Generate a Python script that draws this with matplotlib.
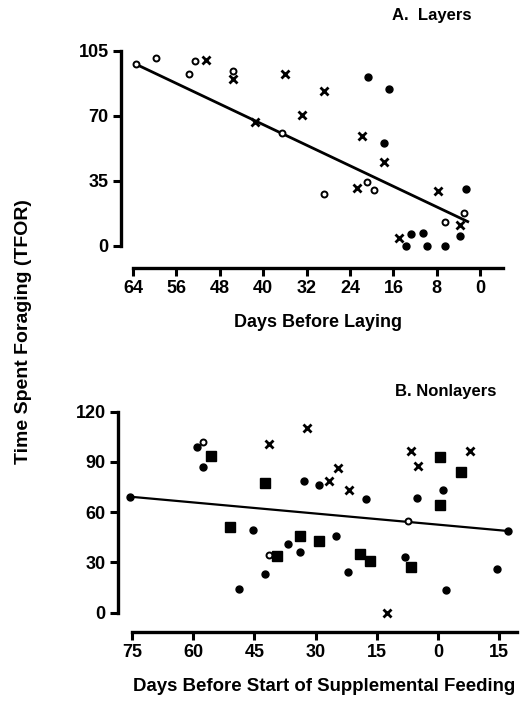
import matplotlib
matplotlib.use("Agg")
import matplotlib.pyplot as plt
import numpy as np
from matplotlib import font_manager

# ---------------- data ----------------
# Panel A: Layers (days before laying, TFOR)
a_open_days = [63.5, 59.8, 52.6, 53.7, 45.5, 36.6, 28.8, 20.9, 19.6, 2.9, 6.5]
a_open_tfor = [97.8, 100.9, 99.6, 92.5, 94.2, 60.6, 28.1, 34.6, 30.1, 17.7, 12.7]
a_x_days = [50.6, 45.5, 35.9, 32.8, 41.5, 28.8, 21.8, 17.8, 22.7, 7.7, 3.8, 14.9]
a_x_tfor = [100.0, 89.6, 92.3, 70.3, 66.8, 83.5, 59.3, 45.0, 31.0, 29.4, 11.1, 4.5]
a_dot_days = [20.7, 16.8, 17.8, 2.7, 3.7, 12.7, 10.6, 13.7, 9.9, 6.5]
a_dot_tfor = [91.0, 84.2, 55.5, 30.6, 5.4, 6.5, 7.2, 0.0, 0.0, 0.0]
a_fit_intercept, a_fit_slope = 9.9, 1.384
a_fit_range = [63.5, 2.3]
a_xticks = [64, 56, 48, 40, 32, 24, 16, 8, 0]
a_yticks = [0, 35, 70, 105]

# Panel B: Nonlayers (days before supplemental feeding, TFOR)
b_dot_days = [75.5, 59.0, 57.6, 32.9, 29.1, 45.3, 36.7, 33.7, 42.5, 48.7,
              17.6, 25.0, 22.1, 5.0, -1.2, 8.1, -2.0, -14.4, -17.3]
b_dot_tfor = [69.3, 99.1, 86.8, 78.4, 76.4, 49.4, 41.0, 36.1, 23.1, 14.1,
              67.7, 46.0, 24.3, 68.7, 73.1, 33.1, 13.6, 26.1, 48.8]
b_open_days = [57.7, 41.5, 7.2]
b_open_tfor = [101.7, 34.3, 54.9]
b_x_days = [41.3, 32.2, 26.6, 24.4, 21.8, 12.4, 6.7, 4.8, -7.9]
b_x_tfor = [100.5, 110.0, 78.6, 86.4, 73.1, 0.0, 96.7, 87.6, 96.7]
b_sq_days = [55.6, 42.4, 51.0, 33.7, 29.2, 39.4, 19.1, 16.6, -0.5, -5.6, -0.5, 6.7]
b_sq_tfor = [93.6, 77.3, 51.0, 46.0, 42.8, 34.0, 34.9, 30.9, 92.8, 83.8, 64.3, 27.5]
b_fit_intercept, b_fit_slope = 52.6, 0.221
b_fit_range = [75.5, -17.3]
b_xticks = [75, 60, 45, 30, 15, 0, -15]
b_xticklabels = ["75", "60", "45", "30", "15", "0", "15"]
b_yticks = [0, 30, 60, 90, 120]

# ---------------- fonts ----------------
names = {f.name for f in font_manager.fontManager.ttflist}
fam = ["Liberation Sans Narrow"] if "Liberation Sans Narrow" in names else ["Liberation Sans"]
plt.rcParams["font.family"] = fam + ["DejaVu Sans"]
plt.rcParams["font.weight"] = "bold"

fig = plt.figure(figsize=(5.25, 7.05), dpi=100)

def style(ax, xlim, ylim, ybounds, xticks, xticklabels, yticks, offset_pt):
    ax.set_xlim(*xlim)
    ax.set_ylim(*ylim)
    for s in ["top", "right"]:
        ax.spines[s].set_visible(False)
    ax.spines["left"].set_position(("outward", offset_pt))
    ax.spines["left"].set_bounds(*ybounds)
    ax.spines["left"].set_linewidth(2.4)
    ax.spines["bottom"].set_linewidth(2.4)
    ax.set_xticks(xticks)
    ax.set_xticklabels(xticklabels)
    ax.set_yticks(yticks)
    ax.tick_params(axis="both", length=6, width=2.2, labelsize=13, pad=3)
    for lab in ax.get_xticklabels() + ax.get_yticklabels():
        lab.set_fontweight("bold")

mk = dict(ls="none", zorder=3, clip_on=False)

# ---------------- Panel A ----------------
axA = fig.add_axes([0.2533, 0.6203, 0.7048, 0.3078])
style(axA, (64, -4.2), (-11.7, 105), (0, 105), a_xticks,
      [str(t) for t in a_xticks], a_yticks, 8.6)
xa = np.array(a_fit_range)
axA.plot(xa, a_fit_intercept + a_fit_slope * xa, color="black", lw=2.0, zorder=2)
axA.plot(a_open_days, a_open_tfor, "o", mfc="white", mec="black", ms=4.3, mew=1.4, **mk)
axA.plot(a_x_days, a_x_tfor, "x", color="black", ms=5.3, mew=2.0, **mk)
axA.plot(a_dot_days, a_dot_tfor, "o", color="black", ms=5, **mk)
axA.set_xlabel("Days Before Laying", fontsize=13, fontweight="bold", labelpad=12)
fig.text(0.823, 0.9787, "A.  Layers", ha="center", va="center", fontsize=12, fontweight="bold")

# ---------------- Panel B ----------------
axB = fig.add_axes([0.2514, 0.1040, 0.7333, 0.3120])
style(axB, (75, -19.4), (-11.3, 120), (0, 120), b_xticks, b_xticklabels, b_yticks, 9.9)
xb = np.array(b_fit_range)
axB.plot(xb, b_fit_intercept + b_fit_slope * xb, color="black", lw=1.6, zorder=2, clip_on=False)
axB.plot(b_dot_days, b_dot_tfor, "o", color="black", ms=5, **mk)
axB.plot(b_open_days, b_open_tfor, "o", mfc="white", mec="black", ms=4.3, mew=1.4, **mk)
axB.plot(b_x_days, b_x_tfor, "x", color="black", ms=5.3, mew=2.0, **mk)
axB.plot(b_sq_days, b_sq_tfor, "s", color="black", ms=7.5, **mk)
axB.set_xlabel("Days Before Start of Supplemental Feeding", fontsize=13.4, fontweight="bold", labelpad=12)
fig.text(0.849, 0.4444, "B. Nonlayers", ha="center", va="center", fontsize=12, fontweight="bold")

fig.text(0.044, 0.53, "Time Spent Foraging (TFOR)", rotation=90, ha="center", va="center",
         fontsize=14, fontweight="bold")

fig.savefig("out.png", dpi=100)
